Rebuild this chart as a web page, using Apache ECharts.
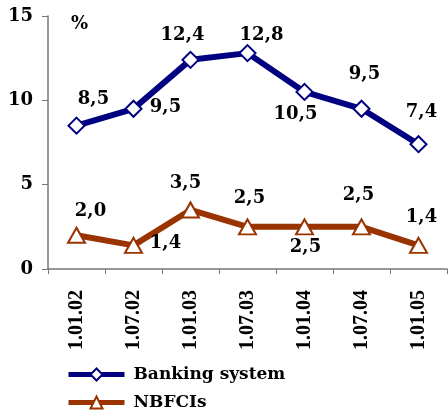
<!DOCTYPE html>
<html>
<head>
<meta charset="utf-8">
<script src="https://cdn.jsdelivr.net/npm/echarts@6/dist/echarts.min.js"></script>
<style>
html,body{margin:0;padding:0;background:#fff;}
#main{width:448px;height:419px;}
</style>
</head>
<body>
<div id="main"></div>
<script>
var dates = ['1.01.02','1.07.02','1.01.03','1.07.03','1.01.04','1.07.04','1.01.05'];
var banking = [8.5, 9.5, 12.4, 12.8, 10.5, 9.5, 7.4];
var nbfci = [2.0, 1.4, 3.5, 2.5, 2.5, 2.5, 1.4];
var yTicks = [0, 5, 10, 15];

// where each value label sits relative to its point
var bankShift = [[17,-26],[32,-1],[-8,-25],[14,-18],[-9,22],[3,-34],[3,-32]];
var nbfciShift = [[14,-24],[32,-2],[-5,-27],[2,-29],[1,20],[-3,-32],[3,-28]];

var fnt = 'DejaVu Serif';

function fmt(v){ return v.toFixed(1).replace('.', ','); }

function build(vals, shift){
	var out = [];
	for (var i = 0; i < vals.length; i++) {
		out.push({ value: vals[i], label: { offset: shift[i] } });
	}
	return out;
}

var myChart = echarts.init(document.getElementById('main'));
var option = {
	animation: false,
	grid: { left: 48, right: 1, top: 16, bottom: 150 },
	graphic: [{
		type: 'text', left: 71, top: 15,
		style: { text: '%', font: 'bold 18px "DejaVu Serif"', fill: '#000' }
	}],
	legend: {
		orient: 'vertical', left: 66, top: 366, padding: 0, height: 60,
		itemWidth: 56, itemHeight: 15, itemGap: 11,
		lineStyle: { width: 5 },
		textStyle: { fontFamily: fnt, fontWeight: 'bold', fontSize: 17, color: '#000', padding: [0,0,0,4] },
		data: ['Banking system', 'NBFCIs']
	},
	xAxis: {
		type: 'category', data: dates, boundaryGap: true,
		axisLine: { lineStyle: { color: '#777', width: 1.5 } },
		axisTick: { show: true, length: 5, lineStyle: { color: '#777' } },
		axisLabel: { rotate: 90, margin: 21, fontFamily: 'Liberation Serif', fontWeight: 'bold', fontSize: 20, color: '#000' }
	},
	yAxis: {
		type: 'value', min: yTicks[0], max: yTicks[yTicks.length-1], interval: 5,
		splitLine: { show: false },
		axisLine: { show: true, lineStyle: { color: '#777', width: 1.5 } },
		axisTick: { show: true, length: 6, lineStyle: { color: '#777' } },
		axisLabel: { margin: 15, fontFamily: fnt, fontWeight: 'bold', fontSize: 18, color: '#000' }
	},
	series: [
		{
			name: 'Banking system', type: 'line',
			data: build(banking, bankShift),
			symbol: 'diamond', symbolSize: 16,
			lineStyle: { color: '#000080', width: 6 },
			itemStyle: { color: '#fff', borderColor: '#000080', borderWidth: 2 },
			label: { show: true, position: 'inside', formatter: function(p){ return fmt(p.value); },
				fontFamily: fnt, fontWeight: 'bold', fontSize: 18, color: '#000' },
			z: 3
		},
		{
			name: 'NBFCIs', type: 'line',
			data: build(nbfci, nbfciShift),
			symbol: 'triangle', symbolSize: [17, 15],
			lineStyle: { color: '#993300', width: 6 },
			itemStyle: { color: '#fff', borderColor: '#993300', borderWidth: 2 },
			label: { show: true, position: 'inside', formatter: function(p){ return fmt(p.value); },
				fontFamily: fnt, fontWeight: 'bold', fontSize: 18, color: '#000' },
			z: 3
		}
	]
};
myChart.setOption(option);
</script>
</body>
</html>
